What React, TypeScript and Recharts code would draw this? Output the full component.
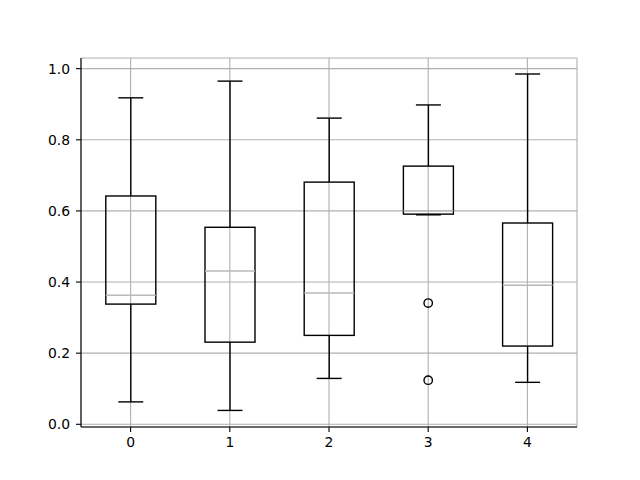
import React from "react";
import {
  ComposedChart,
  Bar,
  Scatter,
  XAxis,
  YAxis,
  CartesianGrid,
} from "recharts";

const categories = ["0", "1", "2", "3", "4"];
const whiskerLow = [0.063, 0.039, 0.129, 0.589, 0.118];
const q1 = [0.338, 0.231, 0.25, 0.591, 0.22];
const median = [0.363, 0.431, 0.369, 0.6, 0.391];
const q3 = [0.642, 0.554, 0.681, 0.726, 0.566];
const whiskerHigh = [0.918, 0.965, 0.861, 0.898, 0.985];

const outlierNames = ["3", "3"];
const outlierValues = [0.341, 0.124];

const yTicks = [0, 0.2, 0.4, 0.6, 0.8, 1.0];

const rows = categories.map((name, i) => ({
  name,
  low: whiskerLow[i],
  q1: q1[i],
  median: median[i],
  q3: q3[i],
  high: whiskerHigh[i],
}));

const outliers = outlierNames.map((name, i) => ({
  name,
  out: outlierValues[i],
}));

const FONT = "'DejaVu Sans', sans-serif";
const tickStyle = { fill: "#000", fontSize: 13.9, fontFamily: FONT };

// the range bar hands us the whisker span in pixels; the rest sits on the same linear scale
const BoxShape = (props: any) => {
  const { x, y, width, height, payload } = props;
  const h = Math.abs(height);
  const top = height < 0 ? y + height : y;
  const span = payload.high - payload.low;
  const py = (v: number) => top + ((payload.high - v) / span) * h;
  const cx = x + width / 2;
  const capL = x + width / 4;
  const capR = x + (width * 3) / 4;
  const yQ1 = py(payload.q1);
  const yQ3 = py(payload.q3);
  const yMed = py(payload.median);
  const yLow = py(payload.low);
  const yHigh = py(payload.high);
  const line = { stroke: "#000", strokeWidth: 1.4 };
  return (
    <g>
      <line x1={cx} x2={cx} y1={yHigh} y2={yQ3} {...line} />
      <line x1={cx} x2={cx} y1={yQ1} y2={yLow} {...line} />
      <line x1={capL} x2={capR} y1={yHigh} y2={yHigh} {...line} />
      <line x1={capL} x2={capR} y1={yLow} y2={yLow} {...line} />
      <rect
        x={x}
        y={yQ3}
        width={width}
        height={yQ1 - yQ3}
        fill="none"
        {...line}
      />
      <line
        x1={x}
        x2={x + width}
        y1={yMed}
        y2={yMed}
        stroke="#b8b8b8"
        strokeWidth={1.4}
      />
    </g>
  );
};

const OutlierShape = (props: any) => (
  <circle
    cx={props.cx}
    cy={props.cy}
    r={4.2}
    fill="none"
    stroke="#000"
    strokeWidth={1.4}
  />
);

export default function App() {
  return (
    <div style={{ position: "absolute", left: 0, top: 0, background: "#fff" }}>
      <ComposedChart
        width={640}
        height={480}
        data={rows}
        barCategoryGap="25%"
        margin={{ top: 58, right: 63, bottom: 0, left: 0 }}
      >
        <CartesianGrid stroke="#b0b0b0" strokeWidth={1.1} />
        <XAxis
          dataKey="name"
          allowDuplicatedCategory={false}
          height={53}
          tick={tickStyle}
          tickSize={5}
          tickMargin={5}
          tickLine={{ stroke: "#000", strokeWidth: 1.1 }}
          axisLine={{ stroke: "#000", strokeWidth: 1.1 }}
        />
        <XAxis
          xAxisId="top"
          dataKey="name"
          allowDuplicatedCategory={false}
          orientation="top"
          height={0}
          tick={false}
          tickLine={false}
          axisLine={{ stroke: "#000", strokeWidth: 1.1 }}
        />
        <YAxis
          type="number"
          domain={[-0.0076, 1.03]}
          ticks={yTicks}
          allowDataOverflow
          width={81}
          tick={tickStyle}
          tickSize={5}
          tickMargin={6}
          tickFormatter={(v: number) => v.toFixed(1)}
          tickLine={{ stroke: "#000", strokeWidth: 1.1 }}
          axisLine={{ stroke: "#000", strokeWidth: 1.1 }}
        />
        <YAxis
          yAxisId="right"
          orientation="right"
          type="number"
          domain={[-0.0076, 1.03]}
          width={0}
          tick={false}
          tickLine={false}
          axisLine={{ stroke: "#000", strokeWidth: 1.1 }}
        />
        <Bar
          dataKey={(d: any) => [d.low, d.high]}
          shape={BoxShape}
          isAnimationActive={false}
        />
        <Scatter
          data={outliers}
          dataKey="out"
          shape={OutlierShape}
          isAnimationActive={false}
        />
      </ComposedChart>
    </div>
  );
}
